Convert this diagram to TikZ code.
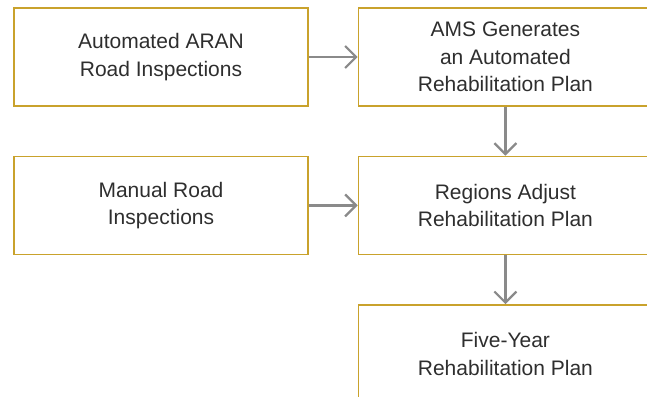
\documentclass[tikz,border=0pt]{standalone}
\usepackage{fontspec}
\setmainfont{Liberation Sans}
\usetikzlibrary{positioning,arrows.meta}
\definecolor{boxgold}{HTML}{C9A22C}
\definecolor{arrowgrey}{HTML}{8A8A8A}
\definecolor{textgrey}{HTML}{2E2E2E}
\begin{document}
\begin{tikzpicture}[x=1pt, y=-1pt,
    stepbox/.style={draw=boxgold, line width=1.4pt, minimum width=294pt, minimum height=98pt,
        align=center, text=textgrey, font=\fontsize{21}{27.5}\selectfont, inner sep=0pt},
    >={Straight Barb[length=11pt, width=22pt]}]
    \useasboundingbox (0,0) rectangle (647,396);
    \clip (0,0) rectangle (647,396);
    % Kästen
    \node[stepbox] (aran) at (161,57) {Automated ARAN\\Road Inspections};
    \node[stepbox, right=49pt of aran] (ams) {AMS Generates\\an Automated\\Rehabilitation Plan};
    \node[stepbox, below=49pt of aran] (manual) {Manual Road\\Inspections};
    \node[stepbox, below=49pt of ams] (regions) {Regions Adjust\\Rehabilitation Plan};
    \node[stepbox, below=49pt of regions] (fiveyear) {Five-Year\\Rehabilitation Plan};

    % Pfeile
    \draw[->, arrowgrey, line width=2.2pt] (aran) -- (ams);
    \draw[->, arrowgrey, line width=2.2pt] (manual) -- (regions);
    \draw[->, arrowgrey, line width=2.2pt] (ams) -- (regions);
    \draw[->, arrowgrey, line width=2.2pt] (regions) -- (fiveyear);
\end{tikzpicture}
\end{document}
